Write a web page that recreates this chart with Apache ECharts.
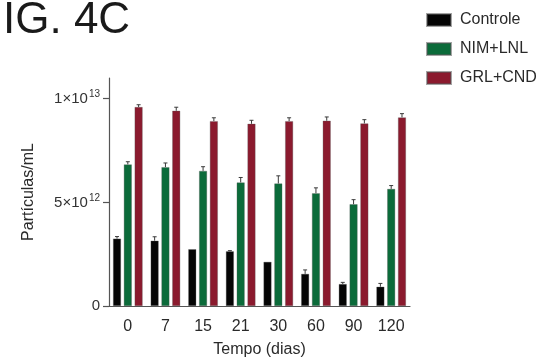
<!DOCTYPE html>
<html>
<head>
<meta charset="utf-8">
<script src="https://cdn.jsdelivr.net/npm/echarts@6/dist/echarts.min.js"></script>
<style>
  html, body { margin: 0; padding: 0; background: #fff; }
  #chart { width: 542px; height: 364px; }
</style>
</head>
<body>
<div id="chart"></div>
<script>
// Time points (days)
const days = ['0', '7', '15', '21', '30', '60', '90', '120'];

// Particle concentration (particles/mL), mean values per group
const controle = [3.25e12, 3.15e12, 2.74e12, 2.64e12, 2.13e12, 1.55e12, 1.06e12, 0.93e12];
const nimLnl   = [6.83e12, 6.70e12, 6.52e12, 5.96e12, 5.91e12, 5.44e12, 4.91e12, 5.65e12];
const grlCnd   = [9.60e12, 9.42e12, 8.92e12, 8.79e12, 8.92e12, 8.94e12, 8.81e12, 9.10e12];

// Upper error (SD) per group
const controleErr = [0.10e12, 0.19e12, 0.00e12, 0.03e12, 0.00e12, 0.19e12, 0.08e12, 0.16e12];
const nimLnlErr   = [0.13e12, 0.20e12, 0.20e12, 0.24e12, 0.37e12, 0.26e12, 0.22e12, 0.16e12];
const grlCndErr   = [0.11e12, 0.17e12, 0.16e12, 0.17e12, 0.16e12, 0.18e12, 0.18e12, 0.18e12];

// Y axis tick values
const yTicks = [0, 5e12, 1e13];

const groupNames = ['Controle', 'NIM+LNL', 'GRL+CND'];
const groupColors = ['#050505', '#0b6b3a', '#8b1a2e'];

const BAR_W = 8;
const BAR_GAP = 2.8;

function tickLabel(v) {
  if (v === 0) return '0';
  const exp = Math.floor(Math.log10(v) + 1e-9);
  const mant = Math.round(v / Math.pow(10, exp));
  return '{b|' + mant + '×10}{s|' + exp + '}';
}

function errorSeries(values, errs, idx) {
  const data = values.map((v, i) => [i, v, v + errs[i]]);
  return {
    type: 'custom',
    name: groupNames[idx] + ' err',
    silent: true,
    z: 5,
    data: data,
    encode: { x: 0, y: [1, 2] },
    renderItem: function (params, api) {
      const xi = api.value(0);
      const top = api.coord([xi, api.value(1)]);
      const hi = api.coord([xi, api.value(2)]);
      const off = (idx - 1) * (BAR_W + BAR_GAP);
      const x = top[0] + off;
      if (Math.abs(hi[1] - top[1]) < 0.5) return null;
      const style = { stroke: '#3a3a3a', lineWidth: 1 };
      return {
        type: 'group',
        children: [
          { type: 'line', shape: { x1: x, y1: top[1], x2: x, y2: hi[1] }, style: style },
          { type: 'line', shape: { x1: x - 2, y1: hi[1], x2: x + 2, y2: hi[1] }, style: style }
        ]
      };
    }
  };
}

function barSeries(values, idx) {
  return {
    type: 'bar',
    name: groupNames[idx],
    data: values,
    barWidth: BAR_W,
    barGap: (BAR_GAP / BAR_W * 100) + '%',
    itemStyle: {
      color: groupColors[idx],
      borderColor: 'rgba(90,90,90,0.55)',
      borderWidth: 0.6
    }
  };
}

const chart = echarts.init(document.getElementById('chart'), null, { renderer: 'canvas' });

const font = 'Liberation Sans, Arial, Helvetica, sans-serif';

chart.setOption({
  animation: false,
  backgroundColor: '#ffffff',
  textStyle: { fontFamily: font },
  graphic: [{
    type: 'text',
    left: 3,
    top: -1,
    style: {
      text: 'IG. 4C',
      font: '44px ' + font,
      fill: '#1a1a1a'
    }
  }],
  legend: {
    data: groupNames,
    orient: 'vertical',
    left: 426,
    top: 12,
    padding: 0,
    itemWidth: 24,
    itemHeight: 12,
    itemGap: 13,
    icon: 'rect',
    textStyle: { fontSize: 16, color: '#2a2a2a', fontFamily: font, padding: [0, 0, 0, 4] }
  },
  grid: { left: 109, right: 132, top: 78, bottom: 58 },
  xAxis: {
    type: 'category',
    data: days,
    name: 'Tempo (dias)',
    nameLocation: 'middle',
    nameGap: 36,
    nameTextStyle: { fontSize: 16, color: '#2a2a2a', fontFamily: font },
    axisLine: { lineStyle: { color: '#555', width: 1.2 } },
    axisTick: { show: false },
    axisLabel: { fontSize: 16, color: '#2a2a2a', margin: 13, fontFamily: font }
  },
  yAxis: {
    type: 'value',
    min: 0,
    max: 1.1e13,
    name: 'Partículas/mL',
    nameLocation: 'middle',
    nameGap: 72,
    nameTextStyle: { fontSize: 16, color: '#2a2a2a', fontFamily: font },
    splitLine: { show: false },
    axisLine: { show: true, lineStyle: { color: '#555', width: 1.2 } },
    axisTick: { show: true, length: 6, customValues: yTicks, lineStyle: { color: '#555', width: 1.2 } },
    axisLabel: {
      customValues: yTicks,
      margin: 9,
      color: '#333',
      fontSize: 15,
      fontFamily: font,
      formatter: tickLabel,
      rich: {
        b: { fontSize: 15, color: '#333', fontFamily: font },
        s: { fontSize: 10, color: '#333', fontFamily: font, padding: [0, 0, 8, 1] }
      }
    }
  },
  series: [
    barSeries(controle, 0),
    barSeries(nimLnl, 1),
    barSeries(grlCnd, 2),
    errorSeries(controle, controleErr, 0),
    errorSeries(nimLnl, nimLnlErr, 1),
    errorSeries(grlCnd, grlCndErr, 2)
  ]
});
</script>
</body>
</html>
